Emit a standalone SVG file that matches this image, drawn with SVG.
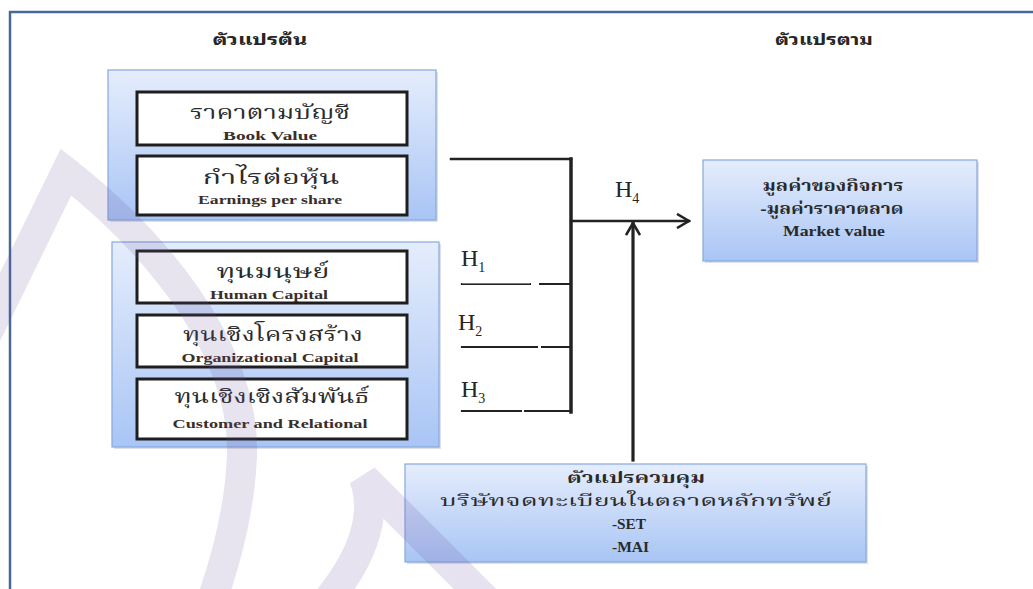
<svg xmlns="http://www.w3.org/2000/svg" width="1033" height="589" viewBox="0 0 1033 589">
  <defs>
    <linearGradient id="blueFill" x1="0" y1="0" x2="0" y2="1">
      <stop offset="0" stop-color="#e5edfc"/>
      <stop offset="1" stop-color="#a9c5f5"/>
    </linearGradient>
    <marker id="openArrow" viewBox="0 0 16 16" refX="14" refY="8" markerWidth="16" markerHeight="16" markerUnits="userSpaceOnUse" orient="auto">
      <polyline points="2,1 14,8 2,15" fill="none" stroke="#222" stroke-width="2.6"/>
    </marker>
    <style>
      .shadow { fill: #c9ccd3; opacity: 0.6; }
      .group { fill: url(#blueFill); stroke: #86a8dd; stroke-width: 1.2; }
      .item { fill: #fff; stroke: #1e1e1e; stroke-width: 3; }
      .thai-big { font-family: "Noto Serif Thai", "Noto Sans Thai Looped", "Noto Sans Thai", "Liberation Serif", serif; font-size: 20px; fill: #2b2b2b; text-anchor: middle; }
      .eng-small { font-family: "Liberation Serif", serif; font-size: 12px; font-weight: bold; fill: #3a2e28; text-anchor: middle; }
      .head { font-family: "Noto Sans Thai Looped", "Noto Serif Thai", "Noto Sans Thai", "Liberation Sans", sans-serif; font-size: 15px; font-weight: bold; fill: #262626; text-anchor: middle; }
      .boxtext { font-family: "Noto Serif Thai", "Noto Sans Thai", "Liberation Serif", serif; font-size: 15px; font-weight: bold; fill: #2a2a2a; text-anchor: middle; }
      .boxtext-reg { font-family: "Noto Serif Thai", "Noto Sans Thai", "Liberation Serif", serif; font-size: 15px; fill: #2a2a2a; text-anchor: middle; }
      .boxtext-en { font-family: "Liberation Serif", serif; font-size: 14px; font-weight: bold; fill: #2a2a2a; text-anchor: middle; }
      .hyp { font-family: "Liberation Serif", serif; font-size: 24px; fill: #262626; }
      .sub { font-size: 14px; }
      .wire { fill: none; stroke: #222; stroke-linecap: square; }
      .mark { fill: none; stroke: #6c4f9e; stroke-linecap: butt; stroke-linejoin: miter; }
    </style>
  </defs>

  <rect width="1033" height="589" fill="#ffffff"/>

  <!-- page frame -->
  <path d="M10,589 V12 H1033" fill="none" stroke="#4a679a" stroke-width="2.5"/>

  <!-- column headings -->
  <text class="head" x="260" y="45" textLength="95" lengthAdjust="spacingAndGlyphs">ตัวแปรต้น</text>
  <text class="head" x="824" y="45" textLength="98" lengthAdjust="spacingAndGlyphs">ตัวแปรตาม</text>

  <!-- independent variables: financial -->
  <g id="group-financial">
    <rect class="shadow" x="110" y="72" width="328" height="150"/>
    <rect class="group" x="108" y="70" width="328" height="150"/>
    <g id="book-value">
      <rect class="item" x="137" y="92" width="270" height="53"/>
      <text class="thai-big" x="270" y="119" textLength="160" lengthAdjust="spacingAndGlyphs">ราคาตามบัญชี</text>
      <text class="eng-small" x="270" y="140" textLength="94" lengthAdjust="spacingAndGlyphs">Book Value</text>
    </g>
    <g id="eps">
      <rect class="item" x="137" y="156" width="270" height="59"/>
      <text class="thai-big" x="271" y="184" textLength="137" lengthAdjust="spacingAndGlyphs">กำไรต่อหุ้น</text>
      <text class="eng-small" x="270" y="204" textLength="144" lengthAdjust="spacingAndGlyphs">Earnings per share</text>
    </g>
  </g>

  <!-- independent variables: intellectual capital -->
  <g id="group-capital">
    <rect class="shadow" x="114" y="244" width="327" height="205"/>
    <rect class="group" x="112" y="242" width="327" height="205"/>
    <g id="human-capital">
      <rect class="item" x="137" y="251" width="270" height="52"/>
      <text class="thai-big" x="273" y="278" textLength="113" lengthAdjust="spacingAndGlyphs">ทุนมนุษย์</text>
      <text class="eng-small" x="269" y="299" textLength="118" lengthAdjust="spacingAndGlyphs">Human Capital</text>
    </g>
    <g id="organizational-capital">
      <rect class="item" x="137" y="315" width="270" height="52"/>
      <text class="thai-big" x="273" y="341" textLength="180" lengthAdjust="spacingAndGlyphs">ทุนเชิงโครงสร้าง</text>
      <text class="eng-small" x="270" y="362" textLength="177" lengthAdjust="spacingAndGlyphs">Organizational Capital</text>
    </g>
    <g id="relational-capital">
      <rect class="item" x="137" y="379" width="270" height="60"/>
      <text class="thai-big" x="272" y="403" textLength="195" lengthAdjust="spacingAndGlyphs">ทุนเชิงเชิงสัมพันธ์</text>
      <text class="eng-small" x="270" y="428" textLength="195" lengthAdjust="spacingAndGlyphs">Customer and Relational</text>
    </g>
  </g>

  <!-- dependent variable -->
  <g id="market-value">
    <rect class="shadow" x="705" y="162" width="274" height="101"/>
    <rect class="group" x="703" y="160" width="274" height="101"/>
    <text class="boxtext" x="833" y="191" textLength="141" lengthAdjust="spacingAndGlyphs">มูลค่าของกิจการ</text>
    <text class="boxtext" x="832" y="214" textLength="143" lengthAdjust="spacingAndGlyphs">-มูลค่าราคาตลาด</text>
    <text class="boxtext-en" x="834" y="236" textLength="102" lengthAdjust="spacingAndGlyphs">Market value</text>
  </g>

  <!-- control variable -->
  <g id="control">
    <rect class="shadow" x="407" y="466" width="461" height="98"/>
    <rect class="group" x="405" y="464" width="461" height="98"/>
    <text class="boxtext" x="636" y="483" textLength="138" lengthAdjust="spacingAndGlyphs">ตัวแปรควบคุม</text>
    <text class="boxtext-reg" x="636" y="506" textLength="392" lengthAdjust="spacingAndGlyphs">บริษัทจดทะเบียนในตลาดหลักทรัพย์</text>
    <text class="boxtext-en" x="612" y="529" style="text-anchor:start" textLength="34" lengthAdjust="spacingAndGlyphs">-SET</text>
    <text class="boxtext-en" x="612" y="552" style="text-anchor:start" textLength="37" lengthAdjust="spacingAndGlyphs">-MAI</text>
  </g>

  <!-- connectors -->
  <g id="connectors">
    <path class="wire" d="M451,159 H571" stroke-width="2.5"/>
    <path class="wire" d="M571,159 V412" stroke-width="3.5"/>
    <path class="wire" d="M462,284 H571" stroke-width="2.2"/>
    <path class="wire" d="M462,347 H571" stroke-width="2.2"/>
    <path class="wire" d="M462,411 H571" stroke-width="2.2"/>
    <!-- small breaks in the branch lines -->
    <path d="M462,283 H530" stroke="#ffffff" stroke-width="1" fill="none" stroke-opacity="0.8"/>
    <path d="M531,284 H539 M538,347 H541 M522,411 H524" stroke="#ffffff" stroke-width="3" fill="none"/>
    <path class="wire" d="M571,221 H689" stroke-width="2.4" marker-end="url(#openArrow)"/>
    <path class="wire" d="M633,460 V223" stroke-width="3.2" marker-end="url(#openArrow)"/>
  </g>

  <!-- hypothesis labels -->
  <g id="labels">
    <text class="hyp" x="461" y="266">H<tspan class="sub" dy="6">1</tspan></text>
    <text class="hyp" x="458" y="330">H<tspan class="sub" dy="6">2</tspan></text>
    <text class="hyp" x="461" y="397">H<tspan class="sub" dy="6">3</tspan></text>
    <text class="hyp" x="615" y="197">H<tspan class="sub" dy="6">4</tspan></text>
  </g>

  <!-- faint background emblem, drawn solid inside a translucent group so overlaps stay even -->
  <g id="emblem" opacity="0.16">
    <path class="mark" d="M-22,352 L66,172 C150,238 245,345 242,455 C240,510 226,560 212,600" stroke-width="30"/>
    <path class="mark" d="M328,600 C368,550 376,510 364,478 L496,610" stroke-width="30"/>
  </g>
</svg>
